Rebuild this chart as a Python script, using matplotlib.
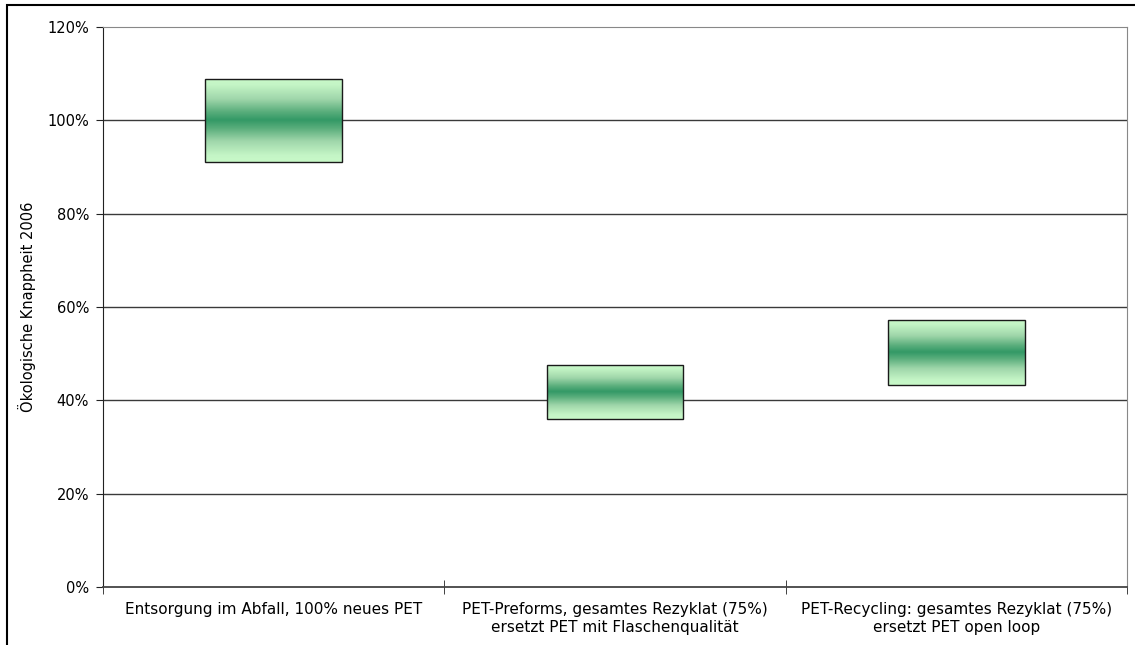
import matplotlib
matplotlib.use("Agg")
import matplotlib.pyplot as plt
from matplotlib.colors import LinearSegmentedColormap
from matplotlib.patches import Rectangle
from matplotlib.ticker import FuncFormatter, FixedLocator
import numpy as np

categories = ["Entsorgung im Abfall, 100% neues PET",
              "PET-Preforms, gesamtes Rezyklat (75%)\nersetzt PET mit Flaschenqualität",
              "PET-Recycling: gesamtes Rezyklat (75%)\nersetzt PET open loop"]
low = [91.0, 36.0, 43.3]
high = [108.9, 47.6, 57.3]

plt.rcParams['font.family'] = ['DejaVu Sans']

fig = plt.figure(figsize=(11.35, 6.45), dpi=100)
ax = fig.add_axes([103 / 1135, 58 / 645, 1024 / 1135, 560 / 645])

# outer chart frame
fig.patches.append(Rectangle((7 / 1135, -0.1), 1.2, 1.1 - 5 / 645,
                             transform=fig.transFigure, fill=False,
                             edgecolor="black", lw=1.5))

x = np.arange(len(categories))

for yv in range(20, 120, 20):
    ax.axhline(yv, color="#3a3a3a", lw=1.0, zorder=1)

cmap = LinearSegmentedColormap.from_list(
    "grad", [(0.0, "#c8f9c8"), (0.08, "#c4f5c6"), (0.25, "#9fd6aa"),
             (0.4, "#5aae7c"), (0.5, "#339966"), (0.6, "#5aae7c"),
             (0.75, "#9fd6aa"), (0.92, "#c4f5c6"), (1.0, "#c8f9c8")])
grad = np.linspace(0, 1, 256).reshape(-1, 1)

bars = ax.bar(x, np.array(high) - np.array(low), bottom=low, width=0.4,
              facecolor="none", edgecolor="#1a1a1a", lw=1.0, zorder=4)
for b in bars:
    x0, y0 = b.get_x(), b.get_y()
    im = ax.imshow(grad, cmap=cmap, aspect="auto", zorder=3,
                   extent=(x0, x0 + b.get_width(), y0, y0 + b.get_height()),
                   interpolation="bilinear")
    im.set_clip_path(b)

ax.set_xlim(-0.5, 2.5)
ax.set_ylim(0, 120)

ax.set_yticks(range(0, 121, 20))
ax.yaxis.set_major_formatter(FuncFormatter(lambda v, p: f"{int(v)}%"))
ax.tick_params(axis="y", direction="out", length=5, labelsize=10.5, pad=5,
               color="#222222")

ax.set_xticks(x)
ax.set_xticklabels(categories, fontsize=11, linespacing=1.25)
ax.tick_params(axis="x", which="major", length=0, pad=11)
ax.xaxis.set_minor_locator(FixedLocator([-0.5, 0.5, 1.5, 2.5]))
ax.tick_params(axis="x", which="minor", direction="inout", length=10,
               color="#222222")

ax.set_ylabel("Ökologische Knappheit 2006", fontsize=10.5, labelpad=8)

ax.spines["left"].set_color("#222222")
ax.spines["bottom"].set_color("#444444")
ax.spines["bottom"].set_linewidth(1.3)
ax.spines["top"].set_color("#888888")
ax.spines["right"].set_color("#888888")

fig.savefig("out.png", dpi=100)
